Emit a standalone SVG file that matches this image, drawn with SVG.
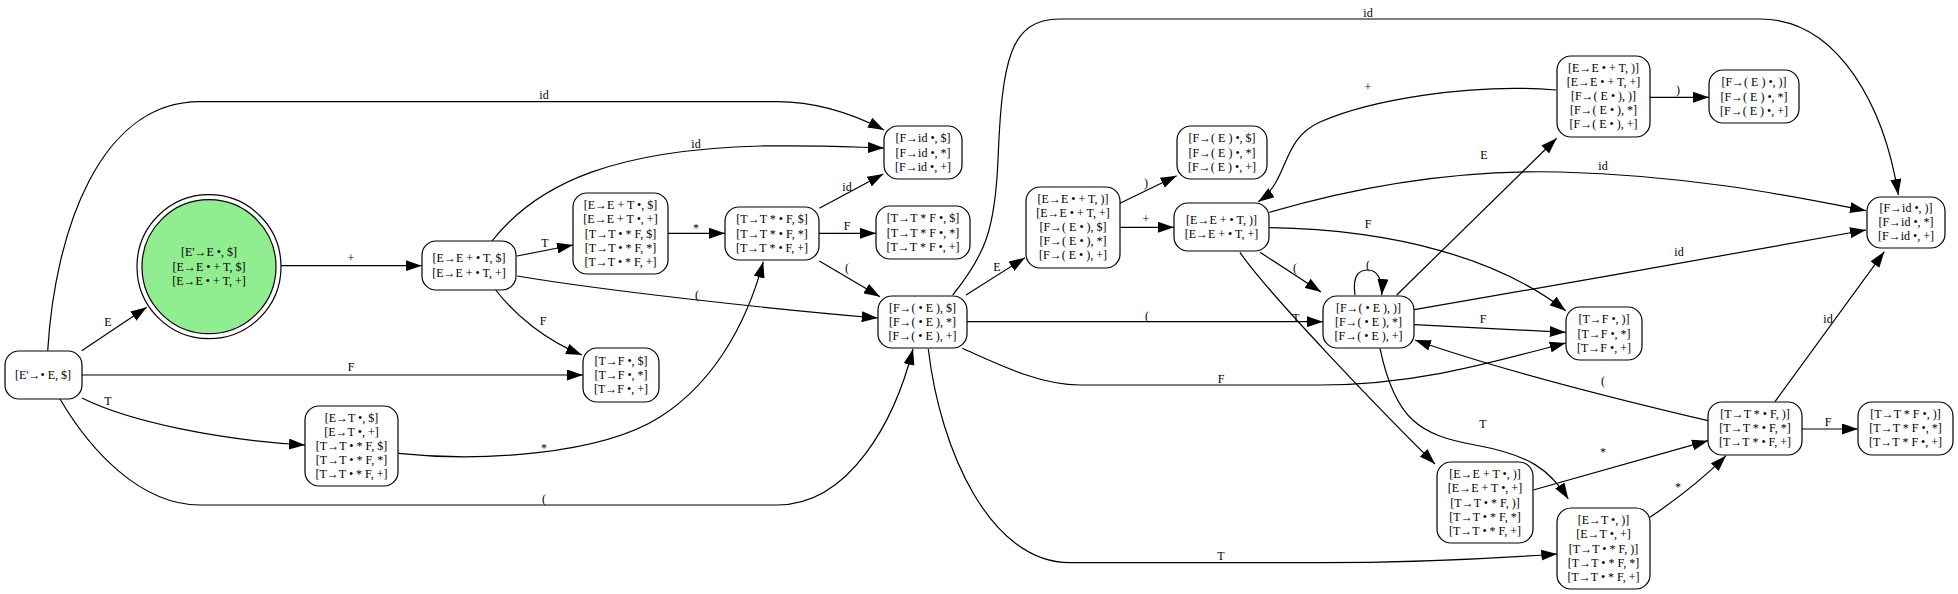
<svg xmlns="http://www.w3.org/2000/svg" width="1958" height="594" viewBox="0 0 1958 594">
<style>
.n{fill:#fff;stroke:#000;stroke-width:1.2}
text{font-family:"Liberation Serif","Times New Roman",serif;font-size:12px;fill:#000;text-anchor:middle}
.e path{fill:none;stroke:#000;stroke-width:1.2;marker-end:url(#a)}
</style>
<defs>
<marker id="a" markerUnits="userSpaceOnUse" markerWidth="16" markerHeight="11" refX="16" refY="5.5" orient="auto" viewBox="0 0 16 11">
<path d="M0,0 L16,5.5 L0,11 z" fill="#000"/>
</marker>
</defs>
<rect width="1958" height="594" fill="#fff"/>
<g id="connectors" class="e">
<path d="M81.7,350.7 L146.7,307.3"/>
<path d="M82,375 L583,375"/>
<path d="M82,398 C130,422 220,440 305,445"/>
<path d="M60,399 C90,450 140,505 200,505 L777,505 C850,505 895,420 913,349"/>
<path d="M47.7,350.7 C55,230 100,101.7 200,101.7 L777,101.7 C820,101.7 855,115 884,130"/>
<path d="M281,265.7 L421.7,265.7"/>
<path d="M517,256 L573,245"/>
<path d="M492,241 C540,180 620,150 760,146 C820,145 850,147 884,148"/>
<path d="M495.7,290 C515,315 545,340 582,355"/>
<path d="M517.3,276 C600,290 760,308 877.7,318"/>
<path d="M398.3,453.3 C480,462 600,455 660,417 C710,385 745,330 763.3,261.7"/>
<path d="M668,233.3 L725,233.3"/>
<path d="M819.3,208.3 L883.3,174"/>
<path d="M819,233.3 L876,233.3"/>
<path d="M819.3,261 L880,296.7"/>
<path d="M952.7,295 C985,255 995,230 998,160 C1002,60 1010,19 1060,19 L1760,19 C1840,19 1885,110 1898.3,195"/>
<path d="M966,295 L1025,257.7"/>
<path d="M967,321.7 L1323,321.7"/>
<path d="M962.3,348.3 C1000,365 1040,385 1080,385 L1320,385 C1420,385 1500,360 1565.7,343"/>
<path d="M928.3,349 C940,450 990,562.7 1070,562.7 L1320,562.7 C1420,562.7 1500,558 1557.3,554"/>
<path d="M1120,203.3 L1176.7,175.7"/>
<path d="M1120,227.3 L1174,227.3"/>
<path d="M1269.3,212.3 C1380,180 1480,170 1560,172 C1700,176 1800,198 1866,210.7"/>
<path d="M1269.3,227.7 C1400,230 1500,260 1565.7,310.7"/>
<path d="M1260,252.3 L1321,292"/>
<path d="M1240,252.3 C1265,290 1380,410 1435,464"/>
<path d="M1355,295 C1352,274 1360,270 1368,270 C1376,270 1383,278 1381.7,295"/>
<path d="M1396.7,295 L1556.7,138.3"/>
<path d="M1414.3,309.7 C1550,287 1750,250 1866,230"/>
<path d="M1414.3,324.7 L1565.7,332.3"/>
<path d="M1380,348.3 C1395,420 1420,435 1475,445 C1530,455 1550,470 1568.3,499"/>
<path d="M1556,90 C1470,83 1370,100 1320,122 C1280,140 1290,180 1258.3,201.7"/>
<path d="M1650,97.3 L1709,97.3"/>
<path d="M1708,420.7 C1620,400 1500,370 1415,340"/>
<path d="M1533.3,490 L1708,440.7"/>
<path d="M1650,517.3 C1680,497 1705,477 1726,455.7"/>
<path d="M1775,401.7 L1884.3,251.7"/>
<path d="M1802,429 L1858,429"/>
</g>
<g id="edge-labels">
<text x="108" y="326">E</text>
<text x="351" y="371">F</text>
<text x="108" y="405">T</text>
<text x="544" y="503">(</text>
<text x="544" y="99">id</text>
<text x="351" y="262">+</text>
<text x="545" y="247">T</text>
<text x="696" y="148">id</text>
<text x="543" y="325">F</text>
<text x="697" y="299">(</text>
<text x="544" y="452">*</text>
<text x="696" y="232">*</text>
<text x="847" y="191">id</text>
<text x="847" y="230">F</text>
<text x="847" y="272">(</text>
<text x="1368" y="17">id</text>
<text x="997" y="271">E</text>
<text x="1147" y="320">(</text>
<text x="1221" y="383">F</text>
<text x="1221" y="560">T</text>
<text x="1146" y="187">)</text>
<text x="1146" y="223">+</text>
<text x="1603" y="170">id</text>
<text x="1368" y="228">F</text>
<text x="1295" y="272">(</text>
<text x="1296" y="322">T</text>
<text x="1368" y="269">(</text>
<text x="1484" y="159">E</text>
<text x="1679" y="256">id</text>
<text x="1483" y="323">F</text>
<text x="1483" y="428">T</text>
<text x="1368" y="91">+</text>
<text x="1678" y="94">)</text>
<text x="1603" y="385">(</text>
<text x="1603" y="456">*</text>
<text x="1678" y="491">*</text>
<text x="1828" y="323">id</text>
<text x="1828" y="426">F</text>
</g>
<g id="I0"><rect class="n" x="5" y="351" width="77" height="48" rx="14"/><text x="43" y="379">[E'→• E, $]</text></g>
<g id="I1"><circle cx="209" cy="266.7" r="72" fill="#fff" stroke="#000" stroke-width="1.2"/><circle cx="209" cy="266.7" r="67" fill="#90ee90" stroke="#000" stroke-width="1.2"/><text x="209" y="256">[E'→E •, $]</text><text x="209" y="270.5">[E→E • + T, $]</text><text x="209" y="285">[E→E • + T, +]</text></g>
<g id="I2"><rect class="n" x="422" y="241" width="94" height="49" rx="14"/><text x="469" y="262">[E→E + • T, $]</text><text x="469" y="277">[E→E + • T, +]</text></g>
<g id="I3"><rect class="n" x="573" y="193" width="95" height="81" rx="14"/><text x="620.5" y="209">[E→E + T •, $]</text><text x="620.5" y="223">[E→E + T •, +]</text><text x="620.5" y="237.5">[T→T • * F, $]</text><text x="620.5" y="252">[T→T • * F, *]</text><text x="620.5" y="266">[T→T • * F, +]</text></g>
<g id="I4"><rect class="n" x="884" y="126" width="78" height="53" rx="14"/><text x="923" y="142">[F→id •, $]</text><text x="923" y="157">[F→id •, *]</text><text x="923" y="171">[F→id •, +]</text></g>
<g id="I5"><rect class="n" x="725" y="207" width="94" height="53" rx="14"/><text x="772" y="223">[T→T * • F, $]</text><text x="772" y="238">[T→T * • F, *]</text><text x="772" y="252">[T→T * • F, +]</text></g>
<g id="I6"><rect class="n" x="876" y="206" width="94" height="53" rx="14"/><text x="923" y="222">[T→T * F •, $]</text><text x="923" y="237">[T→T * F •, *]</text><text x="923" y="251">[T→T * F •, +]</text></g>
<g id="I7"><rect class="n" x="878" y="296" width="89" height="52" rx="14"/><text x="922.5" y="312">[F→( • E ), $]</text><text x="922.5" y="326">[F→( • E ), *]</text><text x="922.5" y="340">[F→( • E ), +]</text></g>
<g id="I8"><rect class="n" x="583" y="348" width="76" height="54" rx="14"/><text x="621" y="365">[T→F •, $]</text><text x="621" y="379">[T→F •, *]</text><text x="621" y="393">[T→F •, +]</text></g>
<g id="I9"><rect class="n" x="305" y="406" width="93" height="80" rx="14"/><text x="351.5" y="422">[E→T •, $]</text><text x="351.5" y="436">[E→T •, +]</text><text x="351.5" y="450">[T→T • * F, $]</text><text x="351.5" y="464">[T→T • * F, *]</text><text x="351.5" y="478">[T→T • * F, +]</text></g>
<g id="I10"><rect class="n" x="1026" y="187" width="94" height="81" rx="14"/><text x="1073" y="203">[E→E • + T, )]</text><text x="1073" y="217">[E→E • + T, +]</text><text x="1073" y="231">[F→( E • ), $]</text><text x="1073" y="245">[F→( E • ), *]</text><text x="1073" y="259">[F→( E • ), +]</text></g>
<g id="I11"><rect class="n" x="1177" y="126" width="90" height="53" rx="14"/><text x="1222" y="142">[F→( E ) •, $]</text><text x="1222" y="157">[F→( E ) •, *]</text><text x="1222" y="171">[F→( E ) •, +]</text></g>
<g id="I12"><rect class="n" x="1174" y="203" width="95" height="48" rx="14"/><text x="1221.5" y="224">[E→E + • T, )]</text><text x="1221.5" y="238">[E→E + • T, +]</text></g>
<g id="I13"><rect class="n" x="1557" y="56" width="93" height="81" rx="14"/><text x="1603.5" y="72">[E→E • + T, )]</text><text x="1603.5" y="86">[E→E • + T, +]</text><text x="1603.5" y="100">[F→( E • ), )]</text><text x="1603.5" y="114">[F→( E • ), *]</text><text x="1603.5" y="128">[F→( E • ), +]</text></g>
<g id="I14"><rect class="n" x="1709" y="70" width="90" height="53" rx="14"/><text x="1754" y="86">[F→( E ) •, )]</text><text x="1754" y="101">[F→( E ) •, *]</text><text x="1754" y="115">[F→( E ) •, +]</text></g>
<g id="I15"><rect class="n" x="1867" y="197" width="78" height="51" rx="14"/><text x="1906" y="212">[F→id •, )]</text><text x="1906" y="226">[F→id •, *]</text><text x="1906" y="240">[F→id •, +]</text></g>
<g id="I16"><rect class="n" x="1323" y="296" width="91" height="52" rx="14"/><text x="1368.5" y="312">[F→( • E ), )]</text><text x="1368.5" y="326">[F→( • E ), *]</text><text x="1368.5" y="340">[F→( • E ), +]</text></g>
<g id="I17"><rect class="n" x="1566" y="307" width="76" height="53" rx="14"/><text x="1604" y="323">[T→F •, )]</text><text x="1604" y="338">[T→F •, *]</text><text x="1604" y="352">[T→F •, +]</text></g>
<g id="I18"><rect class="n" x="1437" y="462" width="96" height="81" rx="14"/><text x="1485" y="478">[E→E + T •, )]</text><text x="1485" y="492">[E→E + T •, +]</text><text x="1485" y="506.5">[T→T • * F, )]</text><text x="1485" y="521">[T→T • * F, *]</text><text x="1485" y="535">[T→T • * F, +]</text></g>
<g id="I19"><rect class="n" x="1557" y="508" width="93" height="81" rx="14"/><text x="1603.5" y="524">[E→T •, )]</text><text x="1603.5" y="538">[E→T •, +]</text><text x="1603.5" y="552.5">[T→T • * F, )]</text><text x="1603.5" y="567">[T→T • * F, *]</text><text x="1603.5" y="581">[T→T • * F, +]</text></g>
<g id="I20"><rect class="n" x="1708" y="402" width="94" height="53" rx="14"/><text x="1755" y="418">[T→T * • F, )]</text><text x="1755" y="432">[T→T * • F, *]</text><text x="1755" y="446">[T→T * • F, +]</text></g>
<g id="I21"><rect class="n" x="1858" y="402" width="95" height="53" rx="14"/><text x="1905.5" y="418">[T→T * F •, )]</text><text x="1905.5" y="432">[T→T * F •, *]</text><text x="1905.5" y="446">[T→T * F •, +]</text></g>
</svg>
